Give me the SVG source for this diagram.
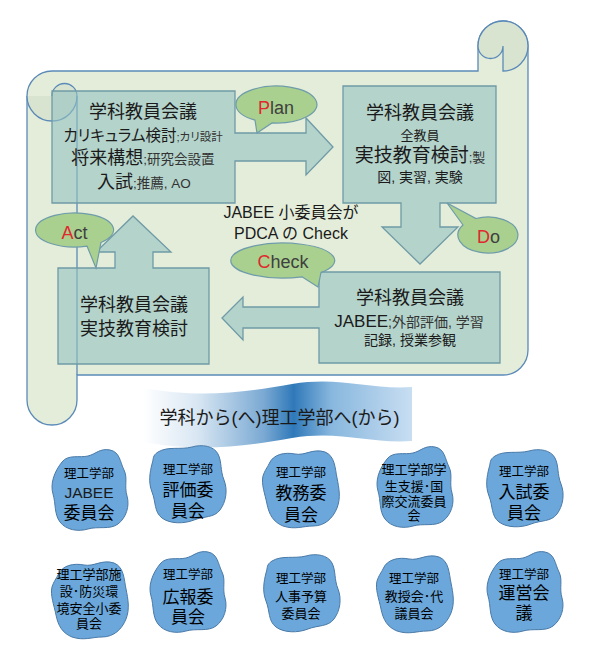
<svg xmlns="http://www.w3.org/2000/svg" width="591" height="660" viewBox="0 0 591 660">
<defs>
  <linearGradient id="bannerGrad" x1="0" y1="0" x2="1" y2="0">
    <stop offset="0" stop-color="#ffffff"/>
    <stop offset="0.2" stop-color="#d9e7f3"/>
    <stop offset="0.45" stop-color="#7aa9d3"/>
    <stop offset="0.56" stop-color="#2f79b9"/>
    <stop offset="0.7" stop-color="#88b7de"/>
    <stop offset="1" stop-color="#c8def2"/>
  </linearGradient>
  <path id="blobA" d="M-28,-28 C-22,-36 -10,-32 -2,-34 C6,-36 10,-42 20,-40 C30,-38 30,-28 34,-20 C38,-12 34,-4 37,6 C40,16 36,28 28,34 C20,40 8,36 -2,39 C-12,42 -24,40 -30,32 C-36,24 -34,14 -37,4 C-40,-6 -36,-18 -28,-28 Z"/>
  <path id="blobB" d="M-30,-32 C-20,-38 -8,-34 4,-37 C14,-40 26,-38 30,-30 C34,-22 32,-14 36,-4 C40,6 38,18 32,26 C26,34 16,32 6,36 C-4,40 -18,40 -26,34 C-34,28 -32,18 -36,8 C-40,-2 -38,-12 -36,-20 C-34,-26 -36,-28 -30,-32 Z"/>
  <path id="blobC" d="M-32,-24 C-28,-34 -16,-36 -6,-34 C4,-32 12,-40 24,-36 C34,-32 34,-20 36,-10 C38,0 40,10 36,20 C32,30 24,38 12,38 C2,38 -6,42 -18,38 C-28,34 -32,26 -34,16 C-36,6 -40,-4 -38,-12 C-36,-18 -34,-20 -32,-24 Z"/>
</defs>
<style>
  .scroll{fill:#e3edd9;stroke:#5b8ab8;stroke-width:1.3}
  .curl{fill:#d9e4d0;stroke:#5b8ab8;stroke-width:1.3}
  .sline{fill:none;stroke:#5b8ab8;stroke-width:1.3}
  .box{fill:#95c2c2;fill-opacity:0.6;stroke:#6f9aa6;stroke-width:1.3}
  .bubble{fill:#a9d08e;stroke:#6f9caa;stroke-width:1.2}
  .blob{fill:#6ba7da;stroke:#4a7aa8;stroke-width:1}
  text{font-family:"Liberation Sans","Noto Sans CJK JP",sans-serif;fill:#1a1a1a}
  .c{text-anchor:middle}
  .h{font-size:18px}
  .s{font-size:13.5px;fill:#333}
  .p{font-feature-settings:"palt" 1}
  .bt{font-size:18px;fill:#404040;text-anchor:middle}
  .r{fill:#e0282e}
  .b1{font-size:12.5px;fill:#000;text-anchor:middle}
  .b2{font-size:17px;fill:#000;text-anchor:middle}
  .b3{font-size:13px;fill:#000;text-anchor:middle}
</style>

<g id="scroll">
  <path class="scroll" d="M528,46 V350 A25,25 0 0 1 503,375 H77 V400 A25,25 0 0 1 27,400 V96 A25,25 0 0 1 52,71 H478 V46 A25,25 0 0 1 528,46 Z"/>
  <path class="curl" d="M503,71 A25,25 0 0 0 528,46 A25,25 0 0 0 478,46 A12.5,12.5 0 0 0 503,46 Z"/>
  <path class="curl" d="M27,96 A25,25 0 0 0 77,96 A12.5,12.5 0 0 0 52,96"/>
  <path class="sline" d="M77,96 V375"/>
</g>

<g id="connectors">
  <path id="plan-arrow" class="box" d="M52,91 H235 V133 H306 V118 L333,147 L306,175 V161 H235 V203 H52 Z"/>
  <path id="do-arrow" class="box" d="M343,86 H496 V203 H440 V227 H458 L420,264 L382,227 H401 V203 H343 Z"/>
  <path id="check-arrow" class="box" d="M319,272 H500 V363 H319 V328 H243 V340 L222,318 L243,297 V307 H319 Z"/>
  <path id="act-arrow" class="box" d="M58,268 H115 V252 H96 L133,216 L171,252 H153 V268 H209 V364 H58 Z"/>
</g>

<g id="node-plan-source">
  <text class="c h" x="143" y="118">学科教員会議</text>
  <text class="c p" x="143" y="141"><tspan font-size="15.5">カリキュラム検討</tspan><tspan font-size="11.5" fill="#333">;カリ設計</tspan></text>
  <text class="c" x="143" y="164"><tspan class="h">将来構想</tspan><tspan class="s">;研究会設置</tspan></text>
  <text class="c" x="144" y="188"><tspan class="h">入試</tspan><tspan class="s">;推薦, AO</tspan></text>
</g>

<g id="node-do-source">
  <text class="c h" x="420" y="119">学科教員会議</text>
  <text class="c" x="420" y="140" font-size="13" fill="#333">全教員</text>
  <text class="c" x="420" y="162"><tspan font-size="19">実技教育検討</tspan><tspan font-size="13" fill="#333">;製</tspan></text>
  <text class="c" x="420" y="182" font-size="14" fill="#333">図, 実習, 実験</text>
</g>

<g id="node-check-source">
  <text class="c h" x="410" y="304">学科教員会議</text>
  <text class="c" x="409" y="327"><tspan font-size="17">JABEE</tspan><tspan font-size="14" fill="#333">;外部評価, 学習</tspan></text>
  <text class="c" x="410" y="345" font-size="14" fill="#333">記録, 授業参観</text>
</g>

<g id="node-act-source">
  <text class="c h" x="134" y="311">学科教員会議</text>
  <text class="c h" x="134" y="335">実技教育検討</text>
</g>

<g id="node-jabee">
  <text class="c" x="291" y="218" font-size="16">JABEE 小委員会が</text>
  <text class="c" x="291" y="239" font-size="16">PDCA の Check</text>
</g>

<g id="bubble-plan">
  <path class="bubble" d="M255,120.2 L257,133 L272,122.9 A40.5,18.5 0 1 0 255,120.2 Z"/>
  <text class="bt" x="276" y="114"><tspan class="r">P</tspan>lan</text>
</g>
<g id="bubble-do">
  <path class="bubble" d="M463,225 L447,203 L476,218.5 A30,18 0 1 1 463,225 Z"/>
  <text class="bt" x="488.5" y="243"><tspan class="r">D</tspan>o</text>
</g>
<g id="bubble-check">
  <path class="bubble" d="M302,276.8 L318,287 L321,272.4 A52,17.5 0 1 0 302,276.8 Z"/>
  <text class="bt" x="283" y="268"><tspan class="r">C</tspan>heck</text>
</g>
<g id="bubble-act">
  <path class="bubble" d="M87,246.1 L96,268 L101,242.5 A39,17 0 1 0 87,246.1 Z"/>
  <text class="bt" x="74.5" y="239"><tspan class="r">A</tspan>ct</text>
</g>

<g id="banner">
  <path fill="url(#bannerGrad)" d="M143,388 C200,398 240,393 292,384 C340,376 370,390 412,387 L412,441 C370,444 340,430 292,438 C240,447 200,452 143,442 Z"/>
  <text class="c" x="279.5" y="424" font-size="18" fill="#111">学科から(へ)理工学部へ(から)</text>
</g>

<g id="committee-jabee">
  <use href="#blobA" class="blob" transform="translate(90,490)"/>
  <text class="b1" x="89" y="478">理工学部</text>
  <text x="89" y="498" font-size="15.5" fill="#000" text-anchor="middle">JABEE</text>
  <text class="b2" x="89" y="519">委員会</text>
</g>
<g id="committee-hyoka">
  <use href="#blobB" class="blob" transform="translate(188,484)"/>
  <text class="b1" x="188" y="474">理工学部</text>
  <text class="b2" x="188" y="496">評価委</text>
  <text class="b2" x="188" y="517">員会</text>
</g>
<g id="committee-kyomu">
  <use href="#blobC" class="blob" transform="translate(301,488)"/>
  <text class="b1" x="301" y="477">理工学部</text>
  <text class="b2" x="301" y="499">教務委</text>
  <text class="b2" x="301" y="521">員会</text>
</g>
<g id="committee-gakusei">
  <use href="#blobA" class="blob" transform="translate(415,487)"/>
  <text class="b3" x="414" y="474">理工学部学</text>
  <text class="b3" x="414" y="491">生支援･国</text>
  <text class="b3" x="414" y="506">際交流委員</text>
  <text class="b3" x="414" y="520">会</text>
</g>
<g id="committee-nyushi">
  <use href="#blobB" class="blob" transform="translate(525,488)"/>
  <text class="b1" x="524" y="476">理工学部</text>
  <text class="b2" x="524" y="498">入試委</text>
  <text class="b2" x="524" y="519">員会</text>
</g>
<g id="committee-shisetsu">
  <use href="#blobC" class="blob" transform="translate(90,599)"/>
  <text class="b3" x="89" y="579">理工学部施</text>
  <text class="b3" x="89" y="596">設･防災環</text>
  <text class="b3" x="89" y="613">境安全小委</text>
  <text class="b3" x="89" y="628">員会</text>
</g>
<g id="committee-koho">
  <use href="#blobA" class="blob" transform="translate(188,592)"/>
  <text class="b1" x="188" y="579">理工学部</text>
  <text class="b2" x="188" y="603">広報委</text>
  <text class="b2" x="188" y="623">員会</text>
</g>
<g id="committee-jinji">
  <use href="#blobB" class="blob" transform="translate(302,593)"/>
  <text class="b1" x="301" y="583">理工学部</text>
  <text class="b3" x="301" y="601">人事予算</text>
  <text class="b3" x="301" y="618">委員会</text>
</g>
<g id="committee-kyojukai">
  <use href="#blobC" class="blob" transform="translate(415,593)"/>
  <text class="b1" x="414" y="583">理工学部</text>
  <text class="b3" x="414" y="601">教授会･代</text>
  <text class="b3" x="414" y="618">議員会</text>
</g>
<g id="committee-unei">
  <use href="#blobA" class="blob" transform="translate(525,592)"/>
  <text class="b1" x="524" y="579">理工学部</text>
  <text class="b2" x="524" y="599">運営会</text>
  <text class="b2" x="524" y="619">議</text>
</g>
</svg>
